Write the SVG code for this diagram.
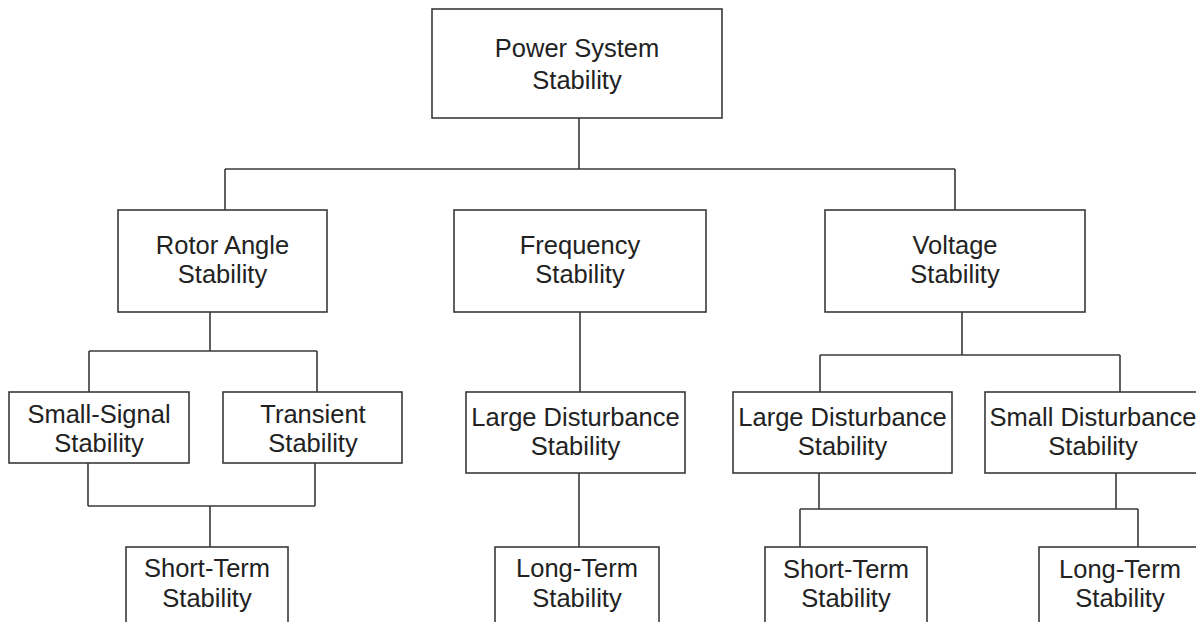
<svg xmlns="http://www.w3.org/2000/svg" width="1196" height="622" viewBox="0 0 1196 622">
<style>
.box{fill:#fff;stroke:#3a3a3a;stroke-width:1.6}
.ln{fill:none;stroke:#3a3a3a;stroke-width:1.6}
text{font-family:"Liberation Sans",Arial,sans-serif;font-size:25.5px;fill:#222;text-anchor:middle}
</style>
<rect width="1196" height="622" fill="#fff"/>
<g id="connectors">
<path class="ln" d="M579,118 V169 M225,169 H955 M225,169 V210 M955,169 V210"/>
<path class="ln" d="M210,312 V351 M89,351 H317 M89,351 V392 M317,351 V392"/>
<path class="ln" d="M88,463 V506 M315,463 V506 M88,506 H315 M210,506 V547"/>
<path class="ln" d="M580,312 V392 M579,473 V547"/>
<path class="ln" d="M962,312 V355 M820,355 H1120 M820,355 V392 M1120,355 V392"/>
<path class="ln" d="M819,473 V509 M1116,473 V509 M800,509 H1138 M800,509 V547 M1138,509 V547"/>
</g>
<g id="power"><rect class="box" x="432" y="9" width="290" height="109"/><text x="577" y="57">Power System</text><text x="577" y="89">Stability</text></g>
<g id="rotor"><rect class="box" x="118" y="210" width="209" height="102"/><text x="222.5" y="254">Rotor Angle</text><text x="222.5" y="283">Stability</text></g>
<g id="frequency"><rect class="box" x="454" y="210" width="252" height="102"/><text x="580" y="254">Frequency</text><text x="580" y="283">Stability</text></g>
<g id="voltage"><rect class="box" x="825" y="210" width="260" height="102"/><text x="955" y="254">Voltage</text><text x="955" y="283">Stability</text></g>
<g id="smallsignal"><rect class="box" x="9" y="392" width="180" height="71"/><text x="99" y="422.5">Small-Signal</text><text x="99" y="451.5">Stability</text></g>
<g id="transient"><rect class="box" x="223" y="392" width="179" height="71"/><text x="313" y="422.5">Transient</text><text x="313" y="451.5">Stability</text></g>
<g id="freq-large"><rect class="box" x="466" y="392" width="219" height="81"/><text x="575.5" y="426">Large Disturbance</text><text x="575.5" y="455">Stability</text></g>
<g id="volt-large"><rect class="box" x="733" y="392" width="219" height="81"/><text x="842.5" y="426">Large Disturbance</text><text x="842.5" y="455">Stability</text></g>
<g id="volt-small"><rect class="box" x="985" y="392" width="216" height="81"/><text x="1093" y="426">Small Disturbance</text><text x="1093" y="455">Stability</text></g>
<g id="rotor-short"><rect class="box" x="126" y="547" width="162" height="90"/><text x="207" y="577">Short-Term</text><text x="207" y="607">Stability</text></g>
<g id="freq-long"><rect class="box" x="495" y="547" width="164" height="90"/><text x="577" y="577">Long-Term</text><text x="577" y="607">Stability</text></g>
<g id="volt-short"><rect class="box" x="765" y="547" width="162" height="90"/><text x="846" y="577.5">Short-Term</text><text x="846" y="607">Stability</text></g>
<g id="volt-long"><rect class="box" x="1039" y="547" width="162" height="90"/><text x="1120" y="577.5">Long-Term</text><text x="1120" y="607">Stability</text></g>
</svg>
